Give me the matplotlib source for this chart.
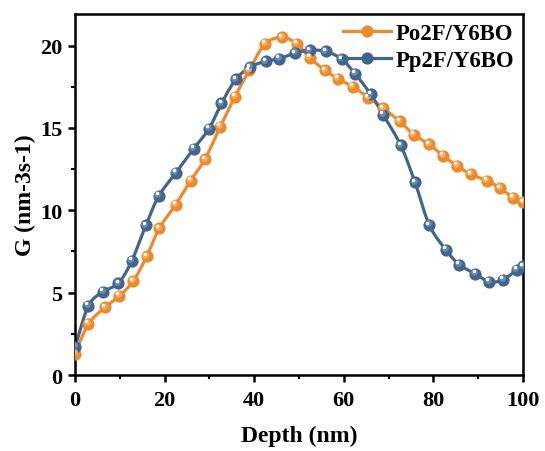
import matplotlib
matplotlib.use("Agg")
import numpy as np
import matplotlib.pyplot as plt
from matplotlib.transforms import ScaledTranslation
from matplotlib.ticker import MultipleLocator
from matplotlib.lines import Line2D

plt.rcParams['font.family'] = ['Liberation Serif', 'DejaVu Serif']
plt.rcParams['font.weight'] = 'bold'

series_names = ["Po2F/Y6BO", "Pp2F/Y6BO"]

po_depth = [0.0, 3.0, 6.7, 9.9, 13.0, 16.0, 18.8, 22.5, 25.8, 29.0, 32.4, 35.7,
            38.9, 42.4, 46.3, 49.5, 52.4, 55.8, 58.6, 62.0, 65.5, 68.8, 72.5,
            75.6, 79.1, 82.2, 85.3, 88.3, 91.9, 94.9, 97.8, 100.0]
po_G = [1.3, 3.1, 4.1, 4.8, 5.7, 7.2, 8.9, 10.35, 11.8, 13.1, 15.06, 16.9,
        18.5, 20.1, 20.5, 20.1, 19.25, 18.5, 18.0, 17.5, 16.85, 16.2, 15.4,
        14.6, 14.0, 13.3, 12.7, 12.2, 11.8, 11.35, 10.75, 10.5]

pp_depth = [0.0, 3.0, 6.3, 9.7, 12.7, 15.8, 18.7, 22.5, 26.5, 29.9, 32.7, 35.9,
            39.1, 42.6, 45.6, 49.1, 52.4, 56.0, 59.5, 62.5, 66.0, 68.8, 72.7,
            75.9, 79.1, 82.8, 85.8, 89.4, 92.4, 95.6, 98.6, 100.0]
pp_G = [1.7, 4.2, 5.06, 5.57, 6.95, 9.08, 10.87, 12.27, 13.75, 14.95, 16.5, 17.95,
        18.7, 19.05, 19.2, 19.55, 19.72, 19.65, 19.18, 18.3, 17.05, 15.8, 13.95,
        11.7, 9.1, 7.6, 6.7, 6.14, 5.67, 5.78, 6.4, 6.6]

x_ticks = [0, 20, 40, 60, 80, 100]
y_ticks = [0, 5, 10, 15, 20]

colors = ["#EF8A2C", "#42658F"]
mid_colors = ["#F5AA5E", "#6A89B0"]


def catmull_rom(xs, ys, n=12):
    """Smooth connecting curve through the given points (Catmull-Rom)."""
    p = np.column_stack([xs, ys]).astype(float)
    p = np.vstack([2 * p[0] - p[1], p, 2 * p[-1] - p[-2]])
    out = []
    t = np.linspace(0, 1, n, endpoint=False)[:, None]
    for i in range(1, len(p) - 2):
        p0, p1, p2, p3 = p[i - 1], p[i], p[i + 1], p[i + 2]
        seg = 0.5 * ((2 * p1) + (-p0 + p2) * t + (2 * p0 - 5 * p1 + 4 * p2 - p3) * t ** 2
                     + (-p0 + 3 * p1 - 3 * p2 + p3) * t ** 3)
        out.append(seg)
    out.append(p[-2][None, :])
    out = np.vstack(out)
    return out[:, 0], out[:, 1]


fig = plt.figure(figsize=(5.45, 4.52), dpi=100)
ax = fig.add_axes([0.1376, 0.1681, 0.8220, 0.7998])

ms = 8.8
hl_off = ScaledTranslation(-1.0 / 72, 1.2 / 72, fig.dpi_scale_trans)
hl_off2 = ScaledTranslation(-1.4 / 72, 1.8 / 72, fig.dpi_scale_trans)

for xs, ys, c, mc in [(po_depth, po_G, colors[0], mid_colors[0]),
                      (pp_depth, pp_G, colors[1], mid_colors[1])]:
    sx, sy = catmull_rom(xs, ys)
    ax.plot(sx, sy, '-', color=c, lw=2.3, zorder=2, clip_on=True)
    ax.plot(xs, ys, 'o', color=c, ms=ms, mec=c, mew=0, zorder=3, clip_on=True)
    ax.plot(xs, ys, 'o', color=mc, ms=ms * 0.55, mew=0, zorder=4,
            transform=ax.transData + hl_off, clip_on=True)
    ax.plot(xs, ys, 'o', color='white', ms=ms * 0.28, mew=0, zorder=5,
            transform=ax.transData + hl_off2, clip_on=True)

ax.set_xlim(0, 100)
ax.set_ylim(0, 21.95)
ax.set_xticks(x_ticks)
ax.set_yticks(y_ticks)
ax.xaxis.set_minor_locator(MultipleLocator(10))
ax.yaxis.set_minor_locator(MultipleLocator(2.5))
ax.tick_params(which='major', direction='out', length=5, width=1.8,
               labelsize=16, pad=4)
ax.tick_params(axis='x', which='major', pad=5.5)
ax.tick_params(which='minor', direction='out', length=3, width=1.5)
ax.tick_params(top=False, right=False, which='both')
for lab in ax.get_xticklabels() + ax.get_yticklabels():
    lab.set_fontweight('bold')
for s in ax.spines.values():
    s.set_linewidth(1.8)

ax.set_xlabel("Depth (nm)", fontsize=17, fontweight='bold', labelpad=11)
ax.set_ylabel("G (nm-3s-1)", fontsize=17, fontweight='bold', labelpad=3)

handles = []
for c in colors:
    handles.append(Line2D([], [], color=c, lw=2.3, marker='o', ms=ms, mew=0, mfc=c))
leg = ax.legend(handles, series_names, loc='upper right', frameon=False,
                handlelength=2.1, handletextpad=0.2,
                labelspacing=0.28, borderaxespad=0.0,
                bbox_to_anchor=(1.0, 1.0), prop={'weight': 'bold', 'size': 16.4})

fig.savefig("out.png", dpi=100)
